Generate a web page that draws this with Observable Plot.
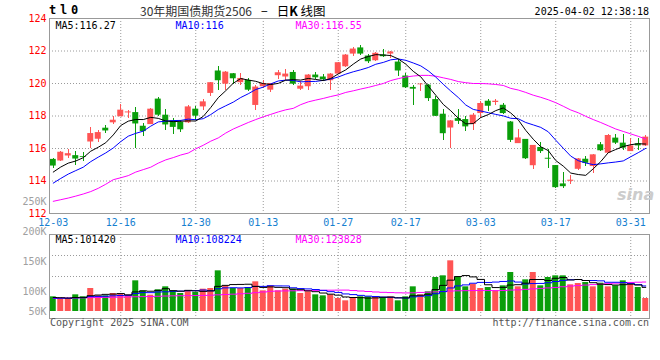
<!DOCTYPE html>
<html><head><meta charset="utf-8">
<script src="https://cdn.jsdelivr.net/npm/d3@7"></script>
<script src="https://cdn.jsdelivr.net/npm/@observablehq/plot@0.6"></script>
<style>
html,body{margin:0;padding:0;background:#fff;}
#wrap{position:relative;width:660px;height:360px;overflow:hidden;background:#fff;font-family:"DejaVu Sans Mono",monospace;}
#wrap svg{position:absolute;left:0;top:0;}
.t{position:absolute;white-space:nowrap;line-height:1;}
</style></head><body>
<div id="wrap"></div>
<script>
// ---------- data ----------
const dates = ["12-03","12-04","12-05","12-06","12-09","12-10","12-11","12-12","12-13","12-16","12-17","12-18","12-19","12-20","12-23","12-24","12-25","12-26","12-27","12-30","12-31",
"01-02","01-03","01-06","01-07","01-08","01-09","01-10","01-13","01-14","01-15","01-16","01-17","01-20","01-21","01-22","01-23","01-24","01-27",
"02-05","02-06","02-07","02-10","02-11","02-12","02-13","02-14","02-17","02-18","02-19","02-20","02-21","02-24","02-25","02-26","02-27","02-28",
"03-03","03-04","03-05","03-06","03-07","03-10","03-11","03-12","03-13","03-14","03-17","03-18","03-19","03-20","03-21","03-24","03-25","03-26","03-27","03-28","03-31",
"04-01","04-02"];
const open = [115.33,115.23,115.54,115.56,115.50,116.40,116.57,117.25,117.58,117.95,
118.19,118.21,117.37,117.47,119.04,118.05,117.70,117.60,117.58,118.42,
118.56,119.39,120.77,119.96,120.60,120.05,120.19,118.65,119.80,119.59,
120.48,120.40,120.68,119.65,119.80,120.52,120.40,120.17,120.58,121.03,
121.81,122.19,121.69,121.40,121.75,121.81,121.32,120.46,119.76,119.92,
119.90,119.01,118.11,117.26,117.84,117.78,117.49,118.15,118.91,118.83,
118.66,117.63,116.30,116.56,114.94,116.06,115.40,114.95,113.82,113.98,
114.72,115.34,114.89,116.23,115.71,116.64,116.33,115.81,116.29,116.16];
const close = [114.92,115.77,115.68,115.35,115.45,116.92,116.98,117.08,117.74,118.36,
118.25,117.51,117.04,118.42,118.05,117.45,117.30,117.15,118.56,117.99,
118.87,120.05,120.17,120.70,120.29,120.31,119.59,119.78,120.00,120.00,
120.66,120.58,119.96,119.84,120.52,120.35,120.23,120.58,121.28,121.75,
122.12,121.81,121.34,121.86,121.65,121.94,120.77,119.74,119.65,119.96,
119.07,117.98,116.91,117.70,117.67,117.33,118.05,118.77,118.60,118.91,
118.15,116.50,116.65,115.37,116.19,115.81,115.34,113.59,113.65,114.05,
115.36,115.09,115.61,115.86,116.80,116.33,116.02,116.16,116.16,116.70];
const high = [115.38,115.83,115.95,115.80,115.75,117.29,117.12,117.41,117.99,118.73,
118.32,118.55,117.53,118.45,119.14,118.42,117.82,117.75,118.65,118.56,
119.02,120.08,121.03,120.72,120.62,120.60,120.33,119.90,120.21,120.02,
120.79,120.89,120.79,120.11,120.54,120.68,120.58,120.60,121.30,121.77,
122.23,122.33,121.81,121.88,122.12,121.96,121.49,120.62,119.86,120.00,
119.92,119.18,118.42,117.72,118.40,118.00,118.15,118.87,119.01,119.03,
118.77,117.67,117.18,116.58,116.21,116.39,115.96,114.97,114.52,114.33,
115.38,115.51,115.63,116.39,116.84,116.84,116.84,116.60,116.60,116.78];
const low = [114.80,115.17,115.37,114.96,115.20,115.99,116.40,116.92,117.47,117.95,
117.82,115.99,116.75,117.45,117.95,117.12,116.88,117.00,117.51,117.74,
118.32,119.18,119.59,119.59,119.94,119.90,119.49,118.36,119.70,119.43,
120.25,120.17,119.90,119.60,119.55,120.25,120.15,119.59,120.55,121.00,
121.65,121.75,121.24,121.38,121.59,121.55,120.42,119.72,118.67,119.49,
118.87,117.94,116.50,116.03,117.47,117.02,117.08,117.84,118.29,118.62,
118.11,116.34,116.28,115.33,114.73,115.71,114.79,113.51,113.51,113.76,
114.62,114.89,114.48,115.84,115.67,116.23,115.88,115.79,115.88,116.14];
const volume = [61600,51800,51800,70000,61600,96600,65800,65800,75600,72800,
68600,128800,86800,68600,91000,103600,86800,75600,86800,79800,
93800,96600,170800,107800,96600,96600,100800,124600,86800,107800,
86800,93800,93800,75600,82600,70000,65800,70000,54600,44800,
58800,61600,61600,58800,58800,61600,44800,61600,103600,70000,
82600,142800,149800,212800,145600,103600,114800,96600,100800,86800,
107800,163800,103600,133000,163800,107800,142800,149800,149800,112000,
117600,121800,103600,119000,103600,107800,128800,114800,100800,54600];
// closes / volumes of the days just before 12-03
const closePrior = [112.90,113.00,113.20,113.35,113.50,114.22,114.48,114.70,114.43];
const volPrior = [52000,54000,53000,55000,52000,57000,59000,58000,58400];
// 30-day averages as drawn (their window reaches before the first candle)
const priceMA30 = [112.75,112.85,112.95,113.07,113.20,113.35,113.55,113.80,114.08,114.20,
114.33,114.55,114.70,114.85,115.10,115.30,115.44,115.60,115.72,115.98,
116.20,116.45,116.65,116.95,117.20,117.40,117.60,117.78,117.95,118.10,
118.25,118.38,118.47,118.70,118.87,118.98,119.08,119.20,119.30,119.45,
119.55,119.66,119.76,119.88,120.00,120.18,120.30,120.40,120.46,120.50,
120.50,120.45,120.35,120.25,120.12,120.05,120.00,120.00,119.98,119.94,
119.88,119.70,119.60,119.45,119.28,119.15,119.00,118.82,118.60,118.37,
118.20,117.98,117.78,117.60,117.40,117.20,117.05,116.90,116.75,116.58];
const volMA30 = [54600,55500,56300,57000,57700,58300,58800,59400,60000,60800,
61600,62000,62500,63000,64000,65000,65800,66200,66600,67000,
67500,68500,70000,71500,72800,74500,76500,79000,82000,85000,
86000,86500,87000,87500,88000,88500,89000,89500,89800,89900,
88000,86000,84000,82000,80500,79500,78500,78000,78500,80000,
81000,82500,84000,86000,87000,87500,88000,88000,88000,87500,
88000,90000,91000,93000,95000,97000,99000,101000,104000,107000,
109000,111000,113000,115000,117000,119000,120500,122000,123000,123800];
const priceTicks = [112,114,116,118,120,122,124];
const dateTicks = ["12-03","12-16","12-30","01-13","01-27","02-17","03-03","03-17","03-31"];
const volLabelTicks = [250000,200000,150000,100000,50000];
const priceLegend = ["MA5:116.27","MA10:116","MA30:116.55"];
const volLegend = ["MA5:101420","MA10:108224","MA30:123828"];

// ---------- styling ----------
const W = 660, H = 360;
const UP = "#ff5454", DOWN = "#0a9e0a";
const MA_COLORS = ["#000000","#0000ff","#ff00ff"];
const GRID = "#9a9a9a", FRAME = "#999999";
const FONT = "DejaVu Sans Mono, monospace";
const style = {background: "transparent", overflow: "visible", fontFamily: FONT, fontSize: "10px"};

const idx = d3.range(dates.length);
const rows = idx.map(i => ({i, o: open[i], h: high[i], l: low[i], c: close[i], v: volume[i],
  col: close[i] >= open[i] ? UP : DOWN}));
const tickIdx = dateTicks.map(d => dates.indexOf(d));
const xScale = {type: "linear", domain: [-0.5, dates.length - 0.5], axis: null};
const common = {width: W, height: H, marginLeft: 49, marginRight: 11, style};

function movingAvg(prior, values, n) {
  const all = prior.concat(values), p = prior.length;
  return idx.map(i => ({i, y: d3.mean(all.slice(p + i - n + 1, p + i + 1))}));
}
const pMA5 = movingAvg(closePrior, close, 5);
const pMA10 = movingAvg(closePrior, close, 10);
const pMA30 = idx.map(i => ({i, y: priceMA30[i]}));
const vMA5 = movingAvg(volPrior, volume, 5);
const vMA10 = movingAvg(volPrior, volume, 10);
const vMA30 = idx.map(i => ({i, y: volMA30[i]}));

const gridOpts = {stroke: GRID, strokeOpacity: 1, strokeDasharray: "1,2"};
const legendMarks = (labels, dy) => labels.map((s, k) =>
  Plot.text([s], {frameAnchor: "top-left", dx: 6 + k * 120, dy, textAnchor: "start",
    lineAnchor: "middle", fill: MA_COLORS[k], fontSize: 10}));

// ---------- price panel ----------
const pricePlot = Plot.plot({
  ...common, marginTop: 18, marginBottom: H - 213,
  x: xScale,
  y: {domain: [112, 124], axis: null},
  marks: [
    Plot.gridY(priceTicks.slice(1, -1), gridOpts),
    Plot.gridX(tickIdx.slice(1), gridOpts),
    Plot.ruleX(rows, {x: "i", y1: "l", y2: "h", stroke: "col", shapeRendering: "crispEdges"}),
    Plot.rect(rows, {x1: d => d.i - 0.4, x2: d => d.i + 0.4, y1: "o", y2: "c", fill: "col"}),
    Plot.line(pMA30, {x: "i", y: "y", stroke: MA_COLORS[2], strokeWidth: 1}),
    Plot.line(pMA10, {x: "i", y: "y", stroke: MA_COLORS[1], strokeWidth: 1}),
    Plot.line(pMA5, {x: "i", y: "y", stroke: MA_COLORS[0], strokeWidth: 1}),
    Plot.frame({stroke: FRAME}),
    Plot.axisY(priceTicks, {tickSize: 0, tickPadding: 3, fill: "#ff0000", label: null, fontSize: 10}),
    Plot.axisX(tickIdx, {tickSize: 0, tickPadding: 5, fill: "#1580d0", label: null, fontSize: 10,
      tickFormat: i => dates[i]}),
    ...legendMarks(priceLegend, 7)
  ]
});

// ---------- volume panel ----------
const VLO = -29400, VHI = 323400;
const volGrid = [1, 2, 3].map(k => VLO + (VHI - VLO) * k / 4);
const volPlot = Plot.plot({
  ...common, marginTop: 234, marginBottom: H - 318,
  x: xScale,
  y: {domain: [VLO, VHI], axis: null},
  marks: [
    Plot.gridY(volGrid, gridOpts),
    Plot.gridX(tickIdx.slice(1), gridOpts),
    Plot.rect(rows, {x1: d => d.i - 0.4, x2: d => d.i + 0.4, y1: 0, y2: "v", fill: "col"}),
    Plot.line(vMA30, {x: "i", y: "y", stroke: MA_COLORS[2], strokeWidth: 1, curve: "step"}),
    Plot.line(vMA10, {x: "i", y: "y", stroke: MA_COLORS[1], strokeWidth: 1, curve: "step"}),
    Plot.line(vMA5, {x: "i", y: "y", stroke: MA_COLORS[0], strokeWidth: 1, curve: "step"}),
    Plot.frame({stroke: FRAME}),
    ...legendMarks(volLegend, 5)
  ]
});

// ---------- volume axis labels (as the source draws them) ----------
const volAxisPlot = Plot.plot({
  ...common, marginTop: 201, marginBottom: H - 311,
  y: {domain: [66700, 250000], clamp: true},
  marks: [
    Plot.axisY(volLabelTicks, {tickSize: 0, tickPadding: 3, fill: "#a0a0a0", label: null, fontSize: 10,
      tickFormat: d => d / 1000 + "K"})
  ]
});

const wrap = document.getElementById("wrap");
wrap.append(volPlot, pricePlot, volAxisPlot);

function addText(txt, css) {
  const el = document.createElement("div");
  el.className = "t";
  el.textContent = txt;
  Object.assign(el.style, css);
  wrap.append(el);
  return el;
}
addText("tl0", {left: "49px", top: "4px", fontSize: "12px", fontWeight: "bold", letterSpacing: "3.8px", color: "#000"});
const title = document.createElement("div");
title.className = "t";
Object.assign(title.style, {left: "140px", top: "3px", height: "13px", lineHeight: "13px", overflow: "visible",
  fontFamily: "'Noto Sans CJK SC', sans-serif", color: "#333"});
title.innerHTML = '<span style="font-size:12px;line-height:13px">30年期国债期货2506</span>' +
  '<span style="font-size:12px;line-height:13px;margin:0 9px;color:#000">−</span>' +
  '<span style="font-size:12.5px;line-height:13px;color:#000">日<b>K</b> 线图</span>';
wrap.append(title);
addText("2025-04-02 12:38:18", {right: "11px", top: "7px", fontSize: "10px", color: "#000"});
addText("Copyright 2025 SINA.COM", {left: "50px", top: "318px", fontSize: "10px", color: "#555"});
addText("http://finance.sina.com.cn", {right: "11px", top: "318px", fontSize: "10px", color: "#555"});
addText("sina", {left: "617px", top: "187px", fontSize: "16px", fontStyle: "italic", fontWeight: "bold",
  fontFamily: "'DejaVu Sans', sans-serif", color: "#cccccc"});
</script>
</body></html>
